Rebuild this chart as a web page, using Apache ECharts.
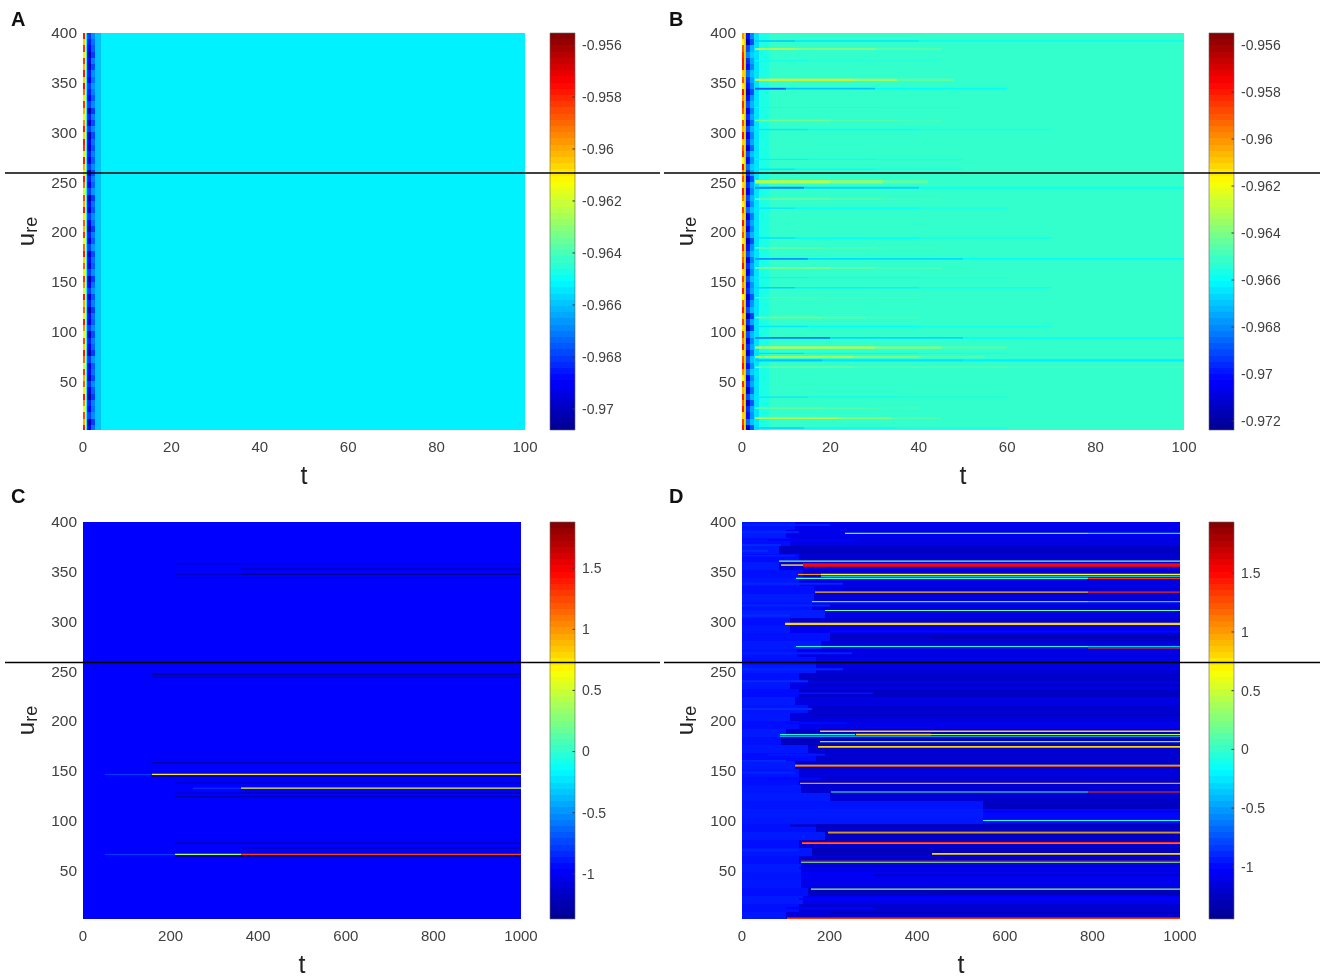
<!DOCTYPE html>
<html><head><meta charset="utf-8">
<style>html,body{margin:0;padding:0;background:#fff}#chart{width:1325px;height:979px;filter:blur(0.6px)}</style>
<script src="https://cdn.jsdelivr.net/npm/echarts@6/dist/echarts.min.js"></script>
</head><body><div id="chart"></div>
<script>
const panelLetters = ['A','B','C','D'];
const yTicks = [50,100,150,200,250,300,350,400];
const xTicksShort = [0,20,40,60,80,100];
const xTicksLong = [0,200,400,600,800,1000];
const barTicksA = [-0.97,-0.968,-0.966,-0.964,-0.962,-0.96,-0.958,-0.956];
const barTicksB = [-0.972,-0.97,-0.968,-0.966,-0.964,-0.962,-0.96,-0.958,-0.956];
const barTicksCD = [-1,-0.5,0,0.5,1,1.5];
const rangeA = [-0.97081,-0.95554];
const rangeB = [-0.97238,-0.95549];
const rangeC = [-1.369,1.877];
const rangeD = [-1.444,1.936];
const backgroundA = -0.9653, backgroundB = -0.9652, backgroundC = -0.963, backgroundD = -1.1;
const jetStops = ['#00008f','#0000ff','#0080ff','#00ffff','#80ff80','#ffff00','#ff8000','#ff0000','#7f0000'];

// Start-up transient, one value per 6.25-unit row band (from u=400 downward)
const edgeA0 = [-.9578,-.9605,-.9582,-.9610,-.9582,-.9600,-.9578,-.9605,-.9576,-.9590,-.9610,-.9582,-.9600,-.9615,-.9595,-.9578,
 -.9605,-.9578,-.9582,-.9610,-.9578,-.9600,-.9610,-.9578,-.9590,-.9620,-.9585,-.9600,-.9578,-.9610,-.9588,-.9600,
 -.9582,-.9615,-.9590,-.9578,-.9605,-.9588,-.9610,-.9582,-.9595,-.9620,-.9578,-.9600,-.9588,-.9610,-.9578,-.9595,
 -.9615,-.9585,-.9605,-.9578,-.9590,-.9620,-.9582,-.9600,-.9588,-.9610,-.9578,-.9595,-.9615,-.9585,-.9600,-.9578];
const edgeA2 = [-.9680,-.9685,-.9690,-.9702,-.9690,-.9700,-.9685,-.9690,-.9680,-.9685,-.9690,-.9680,-.9702,-.9685,-.9700,-.9680,
 -.9700,-.9690,-.9698,-.9685,-.9695,-.9680,-.9700,-.9685,-.9692,-.9680,-.9702,-.9688,-.9698,-.9680,-.9690,-.9704,
 -.9685,-.9695,-.9680,-.9700,-.9688,-.9695,-.9680,-.9702,-.9690,-.9680,-.9698,-.9685,-.9704,-.9688,-.9695,-.9680,
 -.9700,-.9685,-.9692,-.9702,-.9680,-.9695,-.9688,-.9700,-.9682,-.9695,-.9704,-.9685,-.9690,-.9680,-.9702,-.9690];
const edgeA3 = [-.9668,-.9672,-.9675,-.9680,-.9670,-.9678,-.9668,-.9672,-.9666,-.9670,-.9675,-.9668,-.9680,-.9670,-.9678,-.9668,
 -.9678,-.9672,-.9676,-.9670,-.9675,-.9668,-.9678,-.9670,-.9674,-.9666,-.9680,-.9672,-.9676,-.9668,-.9672,-.9680,
 -.9670,-.9675,-.9666,-.9678,-.9672,-.9675,-.9668,-.9680,-.9672,-.9666,-.9676,-.9670,-.9680,-.9672,-.9675,-.9668,
 -.9678,-.9670,-.9674,-.9680,-.9666,-.9675,-.9672,-.9678,-.9668,-.9675,-.9680,-.9670,-.9672,-.9668,-.9680,-.9672];
const edgeB0 = [-.9600,-.9620,-.9590,-.9582,-.9578,-.9578,-.9610,-.9588,-.9615,-.9578,-.9600,-.9582,-.9590,-.9620,-.9588,-.9605,
 -.9578,-.9610,-.9590,-.9582,-.9620,-.9578,-.9600,-.9588,-.9612,-.9578,-.9595,-.9618,-.9585,-.9605,-.9578,-.9600,
 -.9588,-.9615,-.9582,-.9600,-.9590,-.9578,-.9612,-.9585,-.9600,-.9578,-.9618,-.9590,-.9578,-.9605,-.9585,-.9612,
 -.9582,-.9598,-.9578,-.9610,-.9588,-.9578,-.9600,-.9620,-.9582,-.9605,-.9578,-.9592,-.9578,-.9610,-.9585,-.9578];
const edgeB2 = [-.9700,-.9715,-.9690,-.9680,-.9695,-.9700,-.9685,-.9695,-.9700,-.9715,-.9700,-.9690,-.9705,-.9695,-.9710,-.9690,
 -.9705,-.9695,-.9710,-.9690,-.9700,-.9685,-.9695,-.9712,-.9695,-.9705,-.9690,-.9700,-.9685,-.9708,-.9695,-.9705,
 -.9690,-.9715,-.9700,-.9690,-.9708,-.9695,-.9705,-.9690,-.9700,-.9695,-.9712,-.9700,-.9690,-.9718,-.9695,-.9720,
 -.9690,-.9705,-.9695,-.9710,-.9690,-.9700,-.9685,-.9705,-.9695,-.9710,-.9690,-.9712,-.9695,-.9700,-.9685,-.9712];
const edgeB3 = [-.9680,-.9690,-.9672,-.9668,-.9675,-.9680,-.9670,-.9675,-.9680,-.9690,-.9678,-.9672,-.9682,-.9675,-.9685,-.9672,
 -.9680,-.9675,-.9685,-.9670,-.9678,-.9668,-.9675,-.9690,-.9675,-.9680,-.9672,-.9678,-.9670,-.9682,-.9675,-.9680,
 -.9672,-.9690,-.9678,-.9672,-.9682,-.9675,-.9680,-.9670,-.9678,-.9675,-.9688,-.9678,-.9672,-.9692,-.9675,-.9692,
 -.9672,-.9680,-.9675,-.9685,-.9670,-.9678,-.9668,-.9680,-.9675,-.9685,-.9672,-.9688,-.9675,-.9678,-.9670,-.9688];
const edgeColumnA = [[0.45,0.7,-0.9612],[0.7,1.0,-0.9650],[2.8,4.0,-0.9660]];
const edgeColumnB = [[0.45,0.7,-0.9612],[0.7,1.0,-0.9655],[2.8,3.8,-0.9665],[3.8,6,-0.9656]];

// Panel B streaks: u, height, then (t end, value) pairs from t = 3
const streaksB = [
 [392,1.6,12,-.9670,40,-.9664,100,-.9660],[384,2,12,-.9632,30,-.9640,45,-.9647],
 [372,1,15,-.9658,30,-.9655,45,-.9654],[353,1.8,25,-.9615,35,-.9628,48,-.9643],
 [344,1.8,10,-.9688,30,-.9670,60,-.9660],[325,1,15,-.9660,30,-.9657,50,-.9655],
 [312,1.4,20,-.9642,35,-.9647,45,-.9649],[303,1.4,15,-.9664,40,-.9660,70,-.9656],
 [273,1.4,15,-.9662,30,-.9659,50,-.9656],[263,1.4,12,-.9664,30,-.9660,50,-.9656],
 [250.5,3.5,20,-.9632,32,-.9638,42,-.9646],[244.5,2,14,-.9680,40,-.9667,100,-.9658],
 [233,1.4,20,-.9638,32,-.9643,45,-.9648],[224,1.2,12,-.9664,40,-.9660,60,-.9656],
 [194,1.4,12,-.9665,40,-.9661,70,-.9657],[184,1.4,18,-.9640,30,-.9645,45,-.9649],
 [173,1.8,15,-.9678,50,-.9666,100,-.9660],[164,1.6,20,-.9632,30,-.9640,45,-.9647],
 [154,1.2,15,-.9662,40,-.9659,60,-.9656],[144,1.4,12,-.9668,40,-.9662,70,-.9658],
 [134,1.2,18,-.9644,30,-.9647,40,-.9649],[114,1.6,18,-.9634,28,-.9642,40,-.9648],
 [105,1.4,15,-.9664,40,-.9660,70,-.9657],[93.5,1.8,20,-.9682,50,-.9667,100,-.9660],
 [84,2,30,-.9622,45,-.9634,60,-.9645],[78,1.4,14,-.9666,40,-.9661,60,-.9657],
 [74.5,1.6,25,-.9632,40,-.9640,55,-.9647],[71,2.4,18,-.9670,50,-.9665,100,-.9663],
 [64,1.4,25,-.9640,60,-.9645,100,-.9648],[34,1.4,15,-.9664,35,-.9660,60,-.9657],
 [23,1.2,18,-.9642,30,-.9646,40,-.9649],[13,1.8,22,-.9630,34,-.9638,45,-.9647],
 [3,1.4,14,-.9668,35,-.9661,60,-.9657]];

// Panel C horizontal features: u, height, t start, t end, value
const linesC = [
 [357.7,1,210,1000,-1.12],[352.6,1.3,361,1000,-1.35],[347.3,1,210,361,-1.15],[347.3,1.3,361,1000,-1.36],
 [344,1,210,1000,-1.12],[247,1.3,157,1000,-1.3],[244,1.3,157,1000,-1.25],[158,1.3,157,1000,-1.34],
 [146.4,0.8,50,157,-0.7],[146.4,1.2,157,1000,0.72],[144.6,1.2,157,1000,-1.28],[137.6,1.1,210,1000,-1.24],
 [132.6,0.8,250,361,-0.7],[132.6,1.2,361,1000,0.6],[127.6,1.3,361,1000,-1.36],[127.6,1,210,361,-1.2],
 [124,1.1,210,1000,-1.24],[77.3,1.2,210,1000,-1.3],[72.2,1.1,361,1000,-1.26],[66,0.8,50,210,-0.7],
 [66,1.3,210,361,0.4],[66,1.2,361,1000,1.25],[64,1.2,210,1000,-1.3]];

// Panel D: row bands of 8 units from u=400 downward
const boundaryD = [120,100,110,85,130,85,140,130,165,165,160,190,110,110,200,180,125,170,170,130,110,130,120,150,110,130,100,90,150,170,120,130,130,135,200,550,550,550,170,190,130,160,130,135,135,135,150,140,130,100];
const earlyD = [-.96,-.94,-.98,-.95,-.99,-.94,-.97,-.95,-.98,-.94,-.96,-.93,-.98,-.95,-.97,-.94,-.96,-.98,-.94,-.97,-.95,-.99,-.94,-.96,-.95,-.98,-.94,-.97,-.95,-.99,-.94,-.96,-.98,-.95,-.94,-.96,-.94,-.95,-.97,-.94,-.98,-.95,-.97,-.94,-.96,-.95,-.98,-.94,-.97,-.95];
const lateD = [-1.08,-1.10,-1.12,-1.24,-1.2,-1.12,-1.15,-1.12,-1.1,-1.16,-1.14,-1.12,-1.18,-1.08,-1.22,-1.14,-1.12,-1.1,-1.15,-1.22,-1.12,-1.24,-1.14,-1.2,-1.16,-1.1,-1.22,-1.26,-1.18,-1.2,-1.22,-1.15,-1.2,-1.2,-1.18,-1.24,-1.0,-1.0,-1.22,-1.24,-1.2,-1.27,-1.12,-1.15,-1.05,-1.1,-1.26,-1.08,-1.2,-1.15];
// Thin texture rows in panel D: u, height, t start, t end, value
const stripesD = [
 [397,1.5,0,200,-.90],[390,1.5,0,130,-.88],[382,2,60,260,-1.02],[377,2,0,90,-.90],[371,2,0,60,-.88],[366,1.5,0,120,-.92],
 [338,2,0,230,-.90],[333,1.5,230,1000,-1.24],[316,2,0,200,-.90],[306,2,0,110,-.88],[303,2,432,1000,-1.2],[290,2,200,1000,-1.0],
 [284,2,432,1000,-1.32],[268,2,0,250,-.92],[252,2,0,230,-.90],[240,2,0,150,-.88],[236,2,150,1000,-1.28],[228,2,100,300,-.98],
 [222,1.5,200,1000,-1.1],[212,2,0,160,-.88],[206,2,160,1000,-1.26],[198,2,100,240,-1.0],[166,2,60,190,-.95],[160,1.5,0,100,-.88],
 [148,2,0,120,-.90],[142,2,60,180,-1.0],[121,1.5,550,1000,-1.32],[116,2,550,1000,-1.26],[109,2,550,1000,-1.08],[95,2,110,1000,-1.3],
 [70,2,0,130,-.9],[62,2,130,1000,-1.3],[52,2,130,1000,-1.05],[45,2,300,1000,-1.26],[38,2,135,1000,-1.08],[27,2,430,1000,-1.32],
 [21,2,130,1000,-1.02],[12,2,100,300,-1.02],[7,2,200,1000,-1.28]];
const linesD = [
 [388.6,1.1,235,790,0.1],[388.6,1.1,790,1000,-0.25],[360.7,1.1,85,1000,0.25],[356.7,1.4,90,140,0.75],
 [356.7,3.6,140,1000,1.5],[347.3,1.1,128,180,1.0],[347.3,1.6,180,1000,0.66],[345.3,1,180,1000,-0.4],
 [343.3,1.1,123,790,0.0],[343.3,1.1,790,1000,1.35],[329.5,1.1,167,790,0.9],[329.5,1.1,790,1000,1.4],
 [320,1.1,160,790,-0.1],[320,1.2,790,1000,-0.3],[311,1.1,190,1000,0.15],[297.6,2.2,98,1000,0.8],
 [274.8,1,123,790,-0.1],[274.8,1,790,1000,-0.35],[273.4,1,790,1000,1.3],
 [189.7,1.6,178,1000,0.85],[186.4,1.1,87,258,-0.1],[186.4,1.5,260,432,0.78],[186.4,1.1,432,1000,0.45],
 [184.6,1.1,87,1000,-0.35],[179.3,1.1,178,1000,0.1],[174,1.8,174,1000,0.82],[155.6,1,121,1000,0.62],
 [154.4,1,121,1000,1.2],[137.4,1.2,132,1000,1.0],[128.7,1.1,203,790,0.05],[128.7,1.1,790,1000,1.35],
 [100,1.2,550,1000,-0.05],[88.3,1,197,1000,0.72],[87.2,1,197,1000,1.3],[77.8,1,136,1000,1.35],
 [76.8,0.8,136,1000,-0.1],[66.5,1.7,433,1000,0.78],[59,1,134,1000,1.35],[58,0.8,134,1000,0.3],
 [31,1.2,158,1000,0.3],[1.8,1.4,102,1000,1.35]];

const chartEl = document.getElementById('chart');
const chart = echarts.init(chartEl, null, {renderer:'canvas'});
const FONT = 'Liberation Sans, Arial, sans-serif', TEXT = '#404040';

function bgCell(xMax, v){ return [0,xMax,1,400,v]; }
function edgeCells(c0,c2,c3,fixedCols){
  const out=[];
  c0.forEach((v,i)=>{
    const u1=400-i*6.25, u0=Math.max(1,u1-6.25);
    out.push([0,.45,u0,u1,v],[1.0,1.9,u0,u1,c2[i]],[1.9,2.8,u0,u1,c3[i]]);
    fixedCols.forEach(f=>out.push([f[0],f[1],u0,u1,f[2]]));
  });
  return out;
}
function streakCells(list){
  const out=[];
  list.forEach(s=>{
    let t=3;
    for(let k=2;k<s.length;k+=2){ out.push([t,s[k],s[0]-s[1]/2,s[0]+s[1]/2,s[k+1]]); t=s[k]; }
  });
  return out;
}
function lineCells(list){ return list.map(l=>[l[2],l[3],l[0]-l[1]/2,l[0]+l[1]/2,l[4]]); }
function rowCellsD(){
  const out=[];
  boundaryD.forEach((b,i)=>{
    const u1=400-i*8,u0=Math.max(1,u1-8);
    out.push([0,b,u0,u1,earlyD[i]],[b,1000,u0,u1,lateD[i]]);
  });
  return out;
}
function barCells(r){
  const out=[],n=64,step=(r[1]-r[0])/n;
  for(let i=0;i<n;i++) out.push([0,1,r[0]+i*step,r[0]+(i+1)*step,r[0]+(i+.5)*step]);
  return out;
}
function renderCell(params,api){
  const a=api.coord([api.value(0),api.value(3)]), b=api.coord([api.value(1),api.value(2)]);
  const x0=Math.round(a[0]),x1=Math.round(b[0]);
  let y0=a[1],y1=b[1];
  if(y1-y0>=4){y0=Math.round(y0);y1=Math.round(y1);}
  return {type:'rect',shape:{x:x0,y:y0,width:Math.max(1,x1-x0),height:y1-y0},style:{fill:api.visual('color')}};
}
function renderBarTick(params,api){
  const p=api.coord([1,api.value(0)]);
  return {type:'rect',shape:{x:p[0]-2.5,y:p[1]-0.5,width:2.5,height:1},style:{fill:'#333'}};
}
const panels=[
 {left:83,top:33,w:442,h:397,bl:550,xMax:100,xt:xTicksShort,bt:barTicksA,r:rangeA,
  cells:[bgCell(100,backgroundA)].concat(edgeCells(edgeA0,edgeA2,edgeA3,edgeColumnA))},
 {left:742,top:33,w:442,h:397,bl:1209,xMax:100,xt:xTicksShort,bt:barTicksB,r:rangeB,
  cells:[bgCell(100,backgroundB)].concat(edgeCells(edgeB0,edgeB2,edgeB3,edgeColumnB),streakCells(streaksB))},
 {left:83,top:522,w:438,h:397,bl:550,xMax:1000,xt:xTicksLong,bt:barTicksCD,r:rangeC,
  cells:[bgCell(1000,backgroundC)].concat(lineCells(linesC))},
 {left:742,top:522,w:438,h:397,bl:1209,xMax:1000,xt:xTicksLong,bt:barTicksCD,r:rangeD,
  cells:[bgCell(1000,backgroundD)].concat(rowCellsD(),lineCells(stripesD),lineCells(linesD))}
];
const grid=[],xAxis=[],yAxis=[],series=[],visualMap=[],graphic=[],title=[];
panels.forEach((p,i)=>{
  grid.push({left:p.left,top:p.top,width:p.w,height:p.h,outerBoundsMode:'none'});
  xAxis.push({type:'value',gridIndex:i,min:0,max:p.xMax,interval:p.xMax/5,splitLine:{show:false},axisLine:{show:false},axisTick:{show:false},
    axisLabel:{color:TEXT,fontSize:15,fontFamily:FONT,margin:10,formatter:v=>String(v)},
    name:'t',nameLocation:'middle',nameGap:35,nameTextStyle:{fontSize:25,color:'#222',fontFamily:FONT}});
  yAxis.push({type:'value',gridIndex:i,min:1,max:400,splitLine:{show:false},axisLine:{show:false},axisTick:{show:false},
    axisLabel:{color:TEXT,fontSize:15.5,fontFamily:FONT,margin:6,verticalAlign:'top',lineHeight:2,customValues:yTicks},
    name:'{u|u}{r|re}',nameLocation:'middle',nameGap:42,nameRotate:90,
    nameTextStyle:{rich:{u:{fontSize:24,lineHeight:26,verticalAlign:'top',color:'#222',fontFamily:FONT},r:{fontSize:18,lineHeight:20,verticalAlign:'bottom',padding:[18,0,0,0],color:'#222',fontFamily:FONT}}}});
  series.push({type:'custom',xAxisIndex:i,yAxisIndex:i,data:p.cells,renderItem:renderCell,encode:{x:[0,1],y:[2,3]},silent:true,animation:false,progressive:0,clip:true});
});
panels.forEach((p,i)=>{
  const j=i+4;
  grid.push({left:p.bl,top:p.top,width:25,height:p.h,outerBoundsMode:'none'});
  xAxis.push({type:'value',gridIndex:j,min:0,max:1,show:false});
  yAxis.push({type:'value',gridIndex:j,min:p.r[0],max:p.r[1],position:'right',splitLine:{show:false},axisLine:{show:false},
    axisTick:{show:false},
    axisLabel:{color:TEXT,fontSize:14,fontFamily:FONT,margin:7,verticalAlign:'top',lineHeight:2,customValues:p.bt,formatter:v=>String(v)}});
  series.push({type:'custom',xAxisIndex:j,yAxisIndex:j,data:barCells(p.r),renderItem:renderCell,encode:{x:[0,1],y:[2,3]},silent:true,animation:false,progressive:0,z:1});
  visualMap.push({type:'continuous',show:false,min:p.r[0],max:p.r[1],dimension:4,seriesIndex:[i,j],inRange:{color:jetStops}});
  graphic.push({type:'rect',z:50,silent:true,shape:{x:p.bl,y:p.top,width:25,height:p.h},style:{fill:'none',stroke:'#666',lineWidth:0.6}});
  title.push({text:panelLetters[i],left:i%2?664:6,top:i<2?5:482,textStyle:{fontSize:20,fontWeight:'bold',color:'#111',fontFamily:FONT}});
});
panels.forEach((p,i)=>{
  const j=i+4;
  series.push({type:'custom',xAxisIndex:j,yAxisIndex:j,data:p.bt.map(v=>[v]),renderItem:renderBarTick,encode:{y:0},silent:true,animation:false,z:5});
});
[[5,660,173],[664,1320,173],[5,660,662.5],[664,1320,662.5]].forEach(l=>{
  graphic.push({type:'line',z:60,silent:true,shape:{x1:l[0],y1:l[2],x2:l[1],y2:l[2]},style:{stroke:'#000',lineWidth:1.3}});
});
chart.setOption({animation:false,backgroundColor:'#fff',title,grid,xAxis,yAxis,visualMap,series,graphic,tooltip:{show:false}});
</script></body></html>
